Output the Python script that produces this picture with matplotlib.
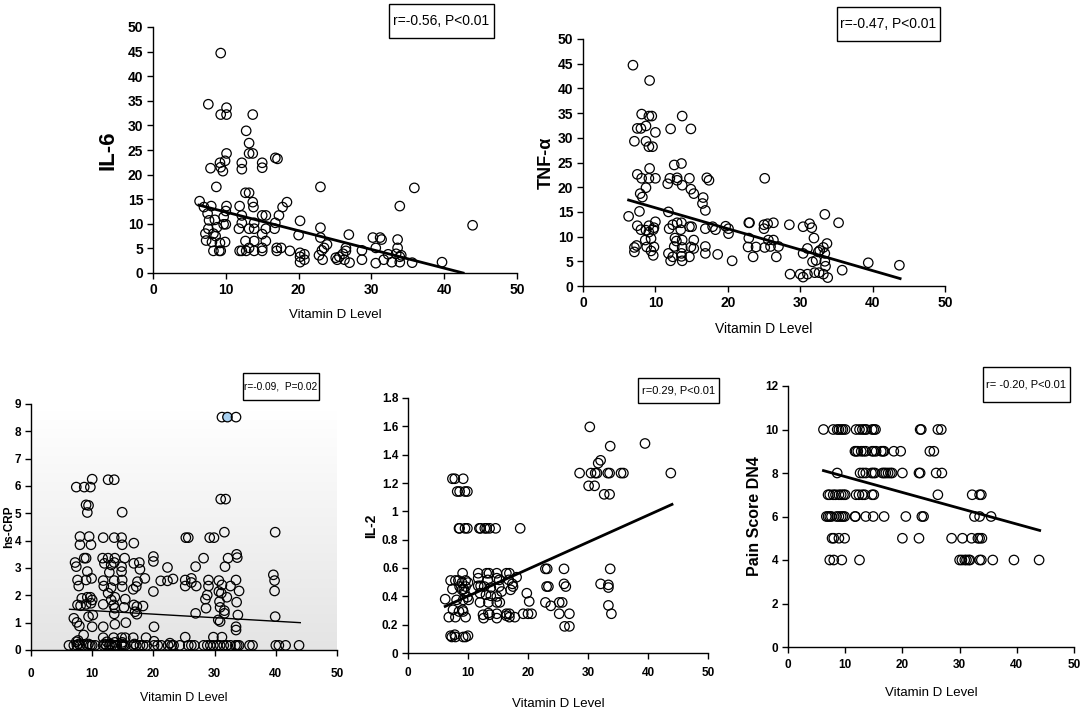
import numpy as np
import matplotlib
matplotlib.use("Agg")
import matplotlib.pyplot as plt
from matplotlib.colors import LinearSegmentedColormap
from matplotlib.patches import Rectangle

plt.rcParams['font.family'] = ['Liberation Sans Narrow', 'Liberation Sans', 'DejaVu Sans']

W, H = 1084, 710

# ---------------- data ----------------
x_label = "Vitamin D Level"

il6_points = [
    (9.3, 44.7), (7.6, 34.3), (10.1, 33.6), (9.3, 32.2), (10.1, 32.2), (13.7, 32.2), (12.8, 28.9),
    (13.2, 26.4), (13.2, 24.3), (13.7, 24.3), (10.1, 24.3), (9.9, 22.8), (9.2, 22.4), (7.9, 21.3),
    (9.3, 21.5), (9.6, 20.7), (12.2, 22.4), (12.2, 21.1), (15.0, 22.4), (15.0, 21.4), (16.8, 23.4),
    (17.1, 23.2), (8.7, 17.5), (23.0, 17.5), (35.9, 17.3), (6.4, 14.6), (7.0, 13.4), (8.0, 13.6),
    (10.1, 13.6), (11.9, 13.6), (13.7, 14.4), (13.8, 13.4), (12.7, 16.3), (13.2, 16.3), (18.4, 14.4),
    (17.8, 13.4), (33.9, 13.6), (7.5, 12.1), (10.0, 12.6), (12.2, 11.7), (15.0, 11.7), (15.5, 11.7),
    (17.3, 11.7), (7.7, 10.7), (9.7, 11.4), (8.5, 10.8), (9.7, 9.9), (10.0, 9.9), (12.2, 10.2),
    (13.9, 10.2), (16.8, 10.2), (20.2, 10.6), (43.9, 9.7), (7.6, 9.0), (8.8, 9.3), (11.8, 9.0),
    (13.2, 9.0), (13.9, 9.0), (15.5, 9.0), (16.7, 9.0), (23.0, 9.2), (7.2, 8.0), (8.3, 8.0),
    (8.6, 7.5), (15.0, 7.9), (20.0, 7.7), (26.9, 7.8), (30.2, 7.2), (31.2, 7.2), (31.4, 6.8),
    (23.0, 7.2), (7.3, 6.6), (8.1, 6.3), (9.2, 6.1), (9.9, 6.3), (12.7, 6.5), (13.9, 6.5),
    (15.5, 6.5), (33.6, 6.8), (23.9, 5.8), (30.6, 5.1), (33.6, 5.1), (8.3, 4.5), (9.1, 4.5),
    (9.3, 4.5), (11.9, 4.5), (12.2, 4.5), (12.8, 4.5), (13.2, 5.1), (13.9, 4.5), (15.0, 4.5),
    (15.0, 5.1), (17.0, 5.1), (17.6, 5.1), (17.0, 4.5), (18.8, 4.5), (23.2, 4.6), (23.5, 5.1),
    (26.5, 4.5), (26.5, 5.1), (28.7, 4.6), (32.3, 3.8), (22.8, 3.6), (20.2, 4.1), (20.8, 3.8),
    (20.2, 3.3), (20.2, 2.2), (20.8, 2.7), (23.3, 2.7), (25.1, 3.1), (25.3, 2.7), (25.6, 3.3),
    (26.1, 3.9), (26.3, 2.7), (27.0, 2.1), (28.7, 2.7), (30.6, 2.0), (31.7, 2.7), (32.8, 2.2),
    (33.9, 3.3), (33.9, 2.2), (34.1, 3.6), (35.6, 2.1), (39.7, 2.2), (33.4, 3.9),
]
il6_fit_x = [6.3, 42.6]
il6_fit_y = [13.8, 0.0]

tnf_points = [
    (6.9, 44.7), (9.2, 41.6), (8.1, 34.8), (9.1, 34.4), (9.5, 34.4), (13.7, 34.4), (7.5, 31.9),
    (8.0, 31.9), (8.7, 32.4), (12.1, 31.8), (14.9, 31.8), (10.0, 31.1), (7.1, 29.3), (8.7, 29.3),
    (9.1, 28.2), (9.6, 28.2), (9.2, 23.8), (13.6, 24.8), (12.6, 24.5), (7.5, 22.6), (8.1, 21.8),
    (9.1, 21.8), (10.0, 21.8), (12.0, 21.8), (13.0, 21.9), (13.0, 21.4), (14.7, 21.8), (17.1, 21.9),
    (17.4, 21.4), (25.1, 21.8), (11.7, 20.7), (13.7, 20.4), (8.7, 19.9), (14.9, 19.6), (15.3, 18.7),
    (7.9, 18.7), (8.2, 18.0), (16.6, 17.9), (16.5, 16.7), (16.9, 15.3), (7.8, 15.1), (11.8, 15.0),
    (6.3, 14.1), (33.4, 14.5), (7.5, 12.2), (9.1, 12.2), (10.0, 13.0), (22.9, 12.8), (23.0, 12.8),
    (26.3, 12.8), (35.3, 12.8), (28.5, 12.4), (31.3, 12.6), (25.0, 12.4), (25.5, 12.6), (12.4, 12.4),
    (13.0, 12.8), (13.6, 12.8), (14.7, 12.0), (15.0, 12.0), (11.9, 11.6), (17.9, 12.0), (18.3, 11.4),
    (19.7, 12.1), (20.1, 11.6), (30.4, 12.0), (31.6, 11.8), (16.9, 11.6), (8.0, 11.4), (9.7, 11.4),
    (13.5, 11.4), (20.1, 10.6), (25.0, 11.6), (9.1, 10.9), (9.8, 11.8), (8.7, 11.3), (31.9, 9.7),
    (12.7, 9.7), (22.9, 9.7), (9.4, 9.6), (8.6, 9.3), (15.3, 9.3), (12.9, 9.1), (13.7, 9.3),
    (25.6, 9.3), (26.3, 9.3), (27.0, 8.0), (33.7, 8.6), (33.2, 7.8), (7.4, 8.2), (7.1, 7.8),
    (8.8, 7.9), (9.8, 7.9), (12.6, 8.0), (13.7, 7.8), (14.9, 7.9), (15.3, 7.6), (16.9, 8.0),
    (22.8, 7.9), (23.9, 7.9), (25.1, 7.8), (25.9, 8.0), (31.0, 7.6), (32.7, 7.2), (7.1, 6.9),
    (9.4, 7.1), (11.8, 6.6), (13.6, 6.6), (16.9, 6.6), (18.6, 6.4), (30.4, 6.6), (33.4, 6.6),
    (9.7, 6.2), (12.4, 5.9), (13.6, 6.0), (14.7, 5.9), (23.5, 5.9), (26.7, 5.9), (32.5, 6.9),
    (12.1, 5.1), (13.7, 5.1), (20.6, 5.1), (31.7, 4.9), (33.4, 5.0), (39.4, 4.7), (43.7, 4.2),
    (33.5, 4.0), (35.8, 3.2), (28.6, 2.4), (30.0, 2.4), (30.4, 1.8), (31.0, 2.4), (32.0, 2.7),
    (32.6, 2.7), (33.2, 2.4), (33.8, 1.7), (32.2, 5.2),
]
tnf_fit_x = [6.3, 43.8]
tnf_fit_y = [17.4, 1.5]

crp_points = [
    (31.2, 8.52), (32.1, 8.52), (33.5, 8.52), (7.4, 5.96), (8.7, 5.96), (9.7, 5.96), (10.0, 6.25),
    (12.6, 6.23), (13.6, 6.23), (9.0, 5.31), (9.4, 5.29), (9.2, 5.03), (14.9, 5.04), (31.0, 5.52),
    (31.8, 5.52), (31.6, 4.31), (39.9, 4.31), (8.0, 4.15), (9.5, 4.15), (11.8, 4.11), (13.6, 4.11),
    (14.8, 4.11), (25.3, 4.11), (25.7, 4.11), (29.2, 4.11), (29.9, 4.11), (8.0, 3.85), (9.8, 3.85),
    (14.9, 3.85), (16.8, 3.91), (8.7, 3.36), (9.0, 3.36), (11.7, 3.36), (12.6, 3.36), (13.7, 3.36),
    (15.3, 3.36), (20.0, 3.42), (20.0, 3.24), (28.2, 3.36), (32.2, 3.36), (33.6, 3.50), (33.7, 3.38),
    (7.2, 3.2), (7.4, 3.05), (12.0, 3.17), (13.1, 3.11), (13.6, 3.2), (14.8, 3.05), (16.8, 3.17),
    (17.7, 3.2), (17.8, 2.95), (22.3, 3.02), (26.9, 3.05), (31.7, 3.05), (12.8, 2.84), (9.2, 2.87),
    (14.8, 2.87), (18.6, 2.62), (26.2, 2.62), (23.2, 2.6), (21.2, 2.53), (7.6, 2.56), (9.0, 2.56),
    (9.9, 2.62), (11.8, 2.54), (13.6, 2.54), (14.9, 2.56), (17.4, 2.5), (25.2, 2.56), (29.0, 2.56),
    (30.7, 2.54), (33.5, 2.56), (39.6, 2.75), (39.8, 2.54), (22.3, 2.53), (26.2, 2.47), (7.8, 2.34),
    (11.9, 2.34), (13.1, 2.28), (14.9, 2.32), (17.2, 2.32), (25.2, 2.34), (27.0, 2.34), (29.0, 2.34),
    (31.2, 2.38), (32.6, 2.34), (34.0, 2.16), (39.8, 2.16), (20.0, 2.14), (12.6, 2.08), (16.7, 2.22),
    (30.7, 2.14), (32.0, 1.93), (8.3, 1.89), (9.2, 1.93), (9.7, 1.93), (10.0, 1.83), (13.1, 1.83),
    (13.7, 1.93), (15.4, 1.86), (28.5, 1.86), (28.8, 2.01), (31.1, 2.08), (30.8, 1.77), (33.6, 1.75),
    (7.6, 1.65), (8.1, 1.62), (9.0, 1.67), (9.8, 1.71), (11.8, 1.67), (13.5, 1.65), (13.7, 1.53),
    (15.2, 1.56), (16.8, 1.65), (17.3, 1.59), (18.3, 1.61), (28.6, 1.53), (30.9, 1.56), (31.6, 1.44),
    (17.0, 1.4), (17.3, 1.31), (10.1, 1.28), (13.6, 1.32), (26.9, 1.34), (31.6, 1.34), (33.8, 1.28),
    (39.9, 1.22), (9.4, 1.22), (7.0, 1.16), (7.5, 1.01), (7.9, 0.88), (30.9, 1.04), (30.6, 1.1),
    (13.7, 0.94), (15.5, 1.0), (11.8, 0.85), (20.1, 0.85), (33.5, 0.85), (10.0, 0.85), (33.5, 0.73),
    (8.6, 0.55), (11.8, 0.45), (13.5, 0.45), (14.8, 0.45), (15.4, 0.45), (16.7, 0.45), (18.8, 0.45),
    (25.2, 0.47), (29.8, 0.47), (31.2, 0.47), (7.4, 0.3), (12.4, 0.3), (13.7, 0.28), (14.9, 0.28),
    (20.1, 0.32), (22.7, 0.25), (7.7, 0.35), (6.2, 0.17), (7.0, 0.17), (7.5, 0.17), (8.0, 0.17),
    (8.5, 0.17), (9.2, 0.17), (9.7, 0.17), (10.0, 0.17), (10.5, 0.17), (11.8, 0.17), (12.3, 0.17),
    (12.8, 0.17), (13.2, 0.17), (13.7, 0.17), (14.0, 0.17), (14.8, 0.17), (15.1, 0.17), (15.4, 0.17),
    (16.7, 0.17), (17.2, 0.17), (17.8, 0.17), (18.3, 0.17), (18.9, 0.17), (20.1, 0.17), (20.7, 0.17),
    (21.3, 0.17), (22.4, 0.17), (23.0, 0.17), (23.3, 0.17), (24.3, 0.17), (25.7, 0.17), (26.2, 0.17),
    (26.7, 0.17), (28.2, 0.17), (28.8, 0.17), (29.3, 0.17), (29.8, 0.17), (30.4, 0.17), (30.9, 0.17),
    (31.5, 0.17), (32.0, 0.17), (32.6, 0.17), (33.4, 0.17), (33.7, 0.17), (34.0, 0.17), (35.7, 0.17),
    (36.2, 0.17), (40.0, 0.17), (40.5, 0.17), (41.6, 0.17), (43.8, 0.17), (7.8, 0.22), (9.4, 0.22),
    (12.0, 0.22), (13.0, 0.22), (14.9, 0.22), (16.9, 0.22),
]
crp_fit_x = [6.3, 44.0]
crp_fit_y = [1.49, 1.0]

il2_points = [
    (30.3, 1.596), (39.5, 1.479), (33.7, 1.46), (32.1, 1.36), (31.7, 1.34), (28.6, 1.27), (30.5, 1.27),
    (31.2, 1.27), (31.5, 1.27), (33.3, 1.27), (33.6, 1.27), (35.5, 1.27), (35.9, 1.27), (43.8, 1.27),
    (30.1, 1.18), (31.1, 1.18), (32.7, 1.12), (33.6, 1.12), (7.4, 1.23), (7.8, 1.23), (9.2, 1.23),
    (8.2, 1.14), (8.6, 1.14), (9.5, 1.14), (9.9, 1.14), (8.5, 0.88), (8.6, 0.88), (9.5, 0.88),
    (9.9, 0.88), (11.9, 0.88), (12.1, 0.88), (12.8, 0.88), (13.1, 0.88), (13.6, 0.88), (14.6, 0.88),
    (18.7, 0.88), (22.9, 0.594), (23.2, 0.594), (26.0, 0.594), (33.7, 0.594), (9.1, 0.563),
    (11.7, 0.563), (13.1, 0.563), (13.5, 0.563), (14.8, 0.563), (16.4, 0.563), (16.9, 0.563),
    (18.1, 0.535), (11.7, 0.528), (13.3, 0.516), (14.8, 0.528), (15.2, 0.516), (16.8, 0.516),
    (7.1, 0.512), (7.9, 0.512), (8.4, 0.512), (9.6, 0.512), (10.0, 0.497), (9.0, 0.497),
    (11.7, 0.474), (12.1, 0.474), (12.7, 0.469), (8.6, 0.469), (9.3, 0.451), (9.6, 0.469),
    (13.8, 0.462), (15.2, 0.469), (17.5, 0.469), (17.4, 0.488), (17.1, 0.446), (26.0, 0.488),
    (26.3, 0.469), (32.1, 0.488), (33.4, 0.481), (33.4, 0.462), (23.1, 0.469), (23.4, 0.469),
    (7.4, 0.451), (9.0, 0.446), (9.4, 0.429), (15.6, 0.434), (12.0, 0.422), (13.0, 0.411),
    (19.8, 0.422), (14.8, 0.399), (9.9, 0.394), (6.2, 0.38), (10.1, 0.375), (8.1, 0.375),
    (9.2, 0.375), (13.8, 0.404), (20.2, 0.364), (12.0, 0.357), (13.4, 0.357), (14.8, 0.357),
    (15.3, 0.357), (22.9, 0.357), (25.2, 0.357), (25.7, 0.357), (23.8, 0.333), (33.4, 0.336),
    (7.5, 0.305), (9.1, 0.305), (8.5, 0.293), (9.2, 0.293), (13.4, 0.282), (12.5, 0.27),
    (13.6, 0.27), (14.8, 0.277), (16.4, 0.277), (16.9, 0.277), (19.2, 0.277), (20.0, 0.277),
    (20.6, 0.277), (25.2, 0.277), (26.9, 0.277), (33.9, 0.277), (6.8, 0.253), (7.9, 0.253),
    (9.6, 0.253), (12.6, 0.246), (14.8, 0.246), (16.9, 0.253), (17.8, 0.253), (16.4, 0.263),
    (26.1, 0.188), (26.9, 0.188), (7.1, 0.122), (7.3, 0.113), (7.9, 0.113), (9.2, 0.113),
    (9.6, 0.113), (10.0, 0.122), (7.8, 0.129),
]
il2_fit_x = [6.2, 44.0]
il2_fit_y = [0.329, 1.049]

pain_x_10 = [6.2, 7.9, 8.6, 8.9, 9.3, 9.6, 10.0, 11.9, 12.5, 13.0, 13.4, 13.7, 14.7, 15.0, 15.3, 23.1, 23.3, 26.2, 26.8]
pain_x_9 = [11.7, 11.9, 12.2, 12.8, 13.2, 13.6, 14.7, 15.0, 15.4, 16.3, 16.6, 16.8, 18.5, 19.7, 24.8, 25.5]
pain_x_8 = [8.6, 12.6, 13.1, 13.6, 14.6, 14.9, 15.2, 16.5, 16.8, 17.1, 17.5, 17.9, 18.2, 20.0, 22.9, 23.1, 25.9, 26.9]
pain_x_7 = [7.0, 7.3, 7.9, 8.3, 8.9, 9.3, 9.7, 10.0, 11.9, 12.4, 13.0, 13.4, 14.7, 15.0, 26.2, 32.2, 33.5, 33.8]
pain_x_6 = [6.7, 7.0, 7.3, 7.6, 8.5, 8.9, 9.3, 9.6, 9.9, 11.7, 11.8, 13.6, 14.9, 16.8, 20.6, 23.4, 23.7, 32.6, 33.5, 35.5]
pain_x_5 = [7.7, 8.0, 8.9, 9.9, 20.0, 22.9, 28.6, 30.5, 32.1, 33.2, 33.5, 33.9]
pain_x_4 = [7.3, 8.0, 9.4, 12.5, 30.0, 30.4, 30.9, 31.2, 31.6, 31.8, 33.5, 33.8, 35.8, 39.5, 43.9]
pain_scores = [10, 9, 8, 7, 6, 5, 4]
pain_fit_x = [6.2, 44.0]
pain_fit_y = [8.11, 5.36]

# ---------------- helpers ----------------
fig = plt.figure(figsize=(W / 100, H / 100), dpi=100)
fig.patch.set_facecolor('white')

LABEL_FONT = ['Liberation Sans', 'DejaVu Sans']


def make_axes(x0, y0, x1, y1):
    return fig.add_axes([x0 / W, 1 - y1 / H, (x1 - x0) / W, (y1 - y0) / H])


def style(ax, ylim, yticks, ylabel, ylab_kw, ylab_x, xlab_y, tick_fs, xlab_fs, xpad=3):
    ax.set_xlim(0, 50)
    ax.set_ylim(*ylim)
    ax.set_xticks([0, 10, 20, 30, 40, 50])
    ax.set_yticks(yticks)
    for s in ['top', 'right']:
        ax.spines[s].set_visible(False)
    for s in ['left', 'bottom']:
        ax.spines[s].set_linewidth(1.0)
        ax.spines[s].set_color('black')
    ax.tick_params(direction='out', length=4, width=1.0, labelsize=tick_fs, pad=3)
    ax.tick_params(axis='x', pad=xpad)
    for lab in ax.get_xticklabels() + ax.get_yticklabels():
        lab.set_fontweight('bold')
    ax.set_ylabel(ylabel, **ylab_kw)
    ax.yaxis.set_label_coords(ylab_x, 0.5)
    ax.set_xlabel(x_label, fontsize=xlab_fs)
    ax.xaxis.set_label_coords(0.5, xlab_y)
    ax.patch.set_alpha(0)


def scatter(ax, pts, ms=6.8, faces=None):
    xs = [p[0] for p in pts]
    ys = [p[1] for p in pts]
    ax.scatter(xs, ys, s=ms ** 2, facecolors='none' if faces is None else faces,
               edgecolors='black', linewidths=0.9, zorder=3, clip_on=False)


def box(x0, y0, x1, y1, text, fs):
    fig.patches.append(Rectangle((x0 / W, 1 - y1 / H), (x1 - x0) / W, (y1 - y0) / H,
                                 transform=fig.transFigure, facecolor='white',
                                 edgecolor='black', linewidth=1.0, zorder=5))
    fig.text((x0 + x1) / 2 / W, 1 - (y0 + y1) / 2 / H, text, ha='center', va='center',
             fontsize=fs, zorder=6)


# ---------------- panel 1: IL-6 ----------------
ax1 = make_axes(153, 27, 517, 273)
scatter(ax1, il6_points)
ax1.plot(il6_fit_x, il6_fit_y, color='black', lw=2.0, zorder=4)
style(ax1, (0, 50), range(0, 51, 5), 'IL-6',
      dict(fontsize=16, fontweight='bold', family=LABEL_FONT),
      -0.096, -0.145, 10, 9.5)
box(389, 4, 494, 38, 'r=-0.56, P<0.01', 10)

# ---------------- panel 2: TNF-a ----------------
ax2 = make_axes(583, 39, 945, 286)
scatter(ax2, tnf_points)
ax2.plot(tnf_fit_x, tnf_fit_y, color='black', lw=2.0, zorder=4)
style(ax2, (0, 50), range(0, 51, 5), 'TNF-α',
      dict(fontsize=13, fontweight='bold', family=LABEL_FONT),
      -0.077, -0.145, 10, 10)
box(837, 7, 940, 41, 'r=-0.47, P<0.01', 10)

# ---------------- panel 3: hs-CRP ----------------
ax3 = make_axes(31, 404, 337, 650)
grad = np.linspace(0, 1, 256).reshape(-1, 1)
cmap = LinearSegmentedColormap.from_list('g', ['#e4e4e4', '#ffffff'])
ax3.imshow(grad, cmap=cmap, extent=[0, 1, 0, 0.97], transform=ax3.transAxes,
           aspect='auto', origin='lower', zorder=0)
faces = ['#a8d0f0' if (p[0] == 32.1 and p[1] == 8.52) else 'none' for p in crp_points]
scatter(ax3, crp_points, faces=faces)
ax3.plot(crp_fit_x, crp_fit_y, color='black', lw=1.0, zorder=4)
style(ax3, (0, 9), range(0, 10), 'hs-CRP',
      dict(fontsize=8.5, fontweight='bold', family=LABEL_FONT),
      -0.052, -0.17, 8.5, 9, xpad=9)
box(243, 373, 319, 400, 'r=-0.09,  P=0.02', 7.3)

# ---------------- panel 4: IL-2 ----------------
ax4 = make_axes(408, 398, 708, 653)
scatter(ax4, il2_points)
ax4.plot(il2_fit_x, il2_fit_y, color='black', lw=2.0, zorder=4)
style(ax4, (0, 1.8), np.round(np.arange(0, 1.81, 0.2), 1), 'IL-2',
      dict(fontsize=10, fontweight='bold', family=LABEL_FONT),
      -0.1, -0.175, 8.5, 9.5, xpad=6)
ax4.set_yticklabels(['0', '0.2', '0.4', '0.6', '0.8', '1', '1.2', '1.4', '1.6', '1.8'], fontweight='bold')
box(638, 378, 719, 403, 'r=0.29, P<0.01', 8)

# ---------------- panel 5: Pain Score DN4 ----------------
ax5 = make_axes(788, 386, 1074, 647)
pain_rows = [pain_x_10, pain_x_9, pain_x_8, pain_x_7, pain_x_6, pain_x_5, pain_x_4]
pain_points = [(x, sc) for row, sc in zip(pain_rows, pain_scores) for x in row]
scatter(ax5, pain_points)
ax5.plot(pain_fit_x, pain_fit_y, color='black', lw=2.0, zorder=4)
style(ax5, (0, 12), range(0, 13, 2), 'Pain Score DN4',
      dict(fontsize=11.5, fontweight='bold', family=LABEL_FONT),
      -0.091, -0.155, 8.5, 9.5, xpad=5)
box(983, 367, 1070, 402, 'r= -0.20, P<0.01', 8)

fig.savefig('out.png', dpi=100)
